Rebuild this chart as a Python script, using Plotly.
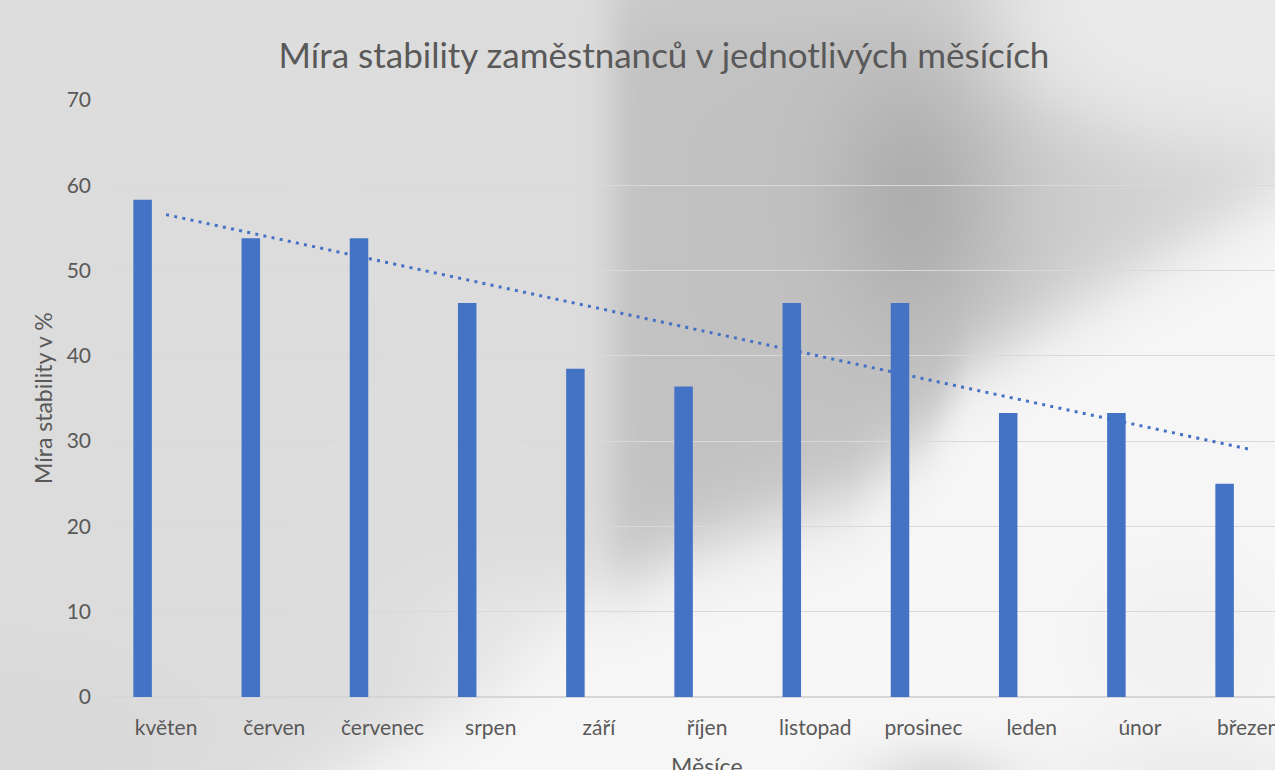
import base64, struct, zlib
import numpy as np
import plotly.graph_objects as go

# ---------------- data ----------------
months = ["květen", "červen", "červenec", "srpen", "září", "říjen",
          "listopad", "prosinec", "leden", "únor", "březen"]
stability = [58.3, 53.8, 53.8, 46.2, 38.5, 36.4, 46.2, 46.2, 33.3, 33.3, 25.0]
y_ticks = [0, 10, 20, 30, 40, 50, 60, 70]

title_text = "Míra stability zaměstnanců v jednotlivých měsících"
y_title = "Míra stability v %"
x_title = "Měsíce"

# linear trendline (least squares, like Excel)
idx = np.arange(len(stability))
slope, intercept = np.polyfit(idx, np.array(stability), 1)
trend = list(intercept + slope * idx)

# ---------------- geometry ----------------
W, H = 1275, 770
L, R, T, B = 112, 0, 100, 73
pw, ph = W - L - R, H - T - B

# ---------------- background (soft grey "metal" gradient) ----------------
yy, xx = np.mgrid[0:H, 0:W].astype(float)

def sig(v):
    return 1.0 / (1.0 + np.exp(-v))

def g(cx, cy, sx, sy):
    return np.exp(-((xx - cx) / sx) ** 2 - ((yy - cy) / sy) ** 2)

left_val = 221.0 - 4 * g(0, 770, 200, 120) + 9 * g(520, 640, 110, 70)
dark_val = (194.0 - 20 * g(915, 200, 85, 130) + 8 * sig((30 - yy) / 15)
            + 14 * sig((xx - 1030) / 40))
I = left_val * (1 - sig((xx - 612) / 10)) + dark_val * sig((xx - 612) / 10)

# top-right light area
yt = np.interp(xx, [1000, 1150, 1275], [90, 140, 160])
Tr = sig((xx - 1000) / 30) * sig((yt - yy) / 25)
I = I * (1 - Tr) + 235.0 * Tr

# lower-right light area with curved boundary
yb = np.interp(xx, [0, 300, 500, 600, 700, 850, 930, 971, 1275],
               [950, 800, 680, 590, 545, 495, 430, 367, 190])
Lr = sig((yy - yb) / 22)
light_val = (247.0 - 26 * g(935, 780, 75, 35) - 10 * g(1200, 770, 150, 40)
             - 6 * g(1180, 640, 90, 80))
I = I * (1 - Lr) + light_val * Lr

I = np.clip(I, 0, 255).astype(np.uint8)
rgb = np.stack([np.clip(I.astype(int) + 1, 0, 255).astype(np.uint8), I, I], axis=-1)

def png_bytes(arr):
    h, w, _ = arr.shape
    raw = b"".join(b"\x00" + arr[r].tobytes() for r in range(h))
    def chunk(t, d):
        return struct.pack(">I", len(d)) + t + d + struct.pack(">I", zlib.crc32(t + d) & 0xFFFFFFFF)
    ihdr = struct.pack(">IIBBBBB", w, h, 8, 2, 0, 0, 0)
    return (b"\x89PNG\r\n\x1a\n" + chunk(b"IHDR", ihdr)
            + chunk(b"IDAT", zlib.compress(raw, 9)) + chunk(b"IEND", b""))

bg_uri = "data:image/png;base64," + base64.b64encode(png_bytes(rgb)).decode()

# ---------------- figure ----------------
BLUE = "#4472C4"
TXT = "#595959"
FONT = "Lato"

fig = go.Figure()
fig.add_trace(go.Scatter(
    x=months, y=trend, mode="lines", xaxis="x", yaxis="y",
    line=dict(color=BLUE, width=3, dash="3px,5.3px"),
    hoverinfo="skip", showlegend=False))
fig.add_trace(go.Bar(
    x=months, y=stability, xaxis="x2", yaxis="y2",
    marker=dict(color=BLUE, line=dict(width=0)),
    width=0.171, offset=-0.3027, showlegend=False))

xr = [-0.5, -0.5 + pw / 108.2]
fig.update_layout(
    width=W, height=H,
    margin=dict(l=L, r=R, t=T, b=B, autoexpand=False),
    paper_bgcolor="#dddcdc", plot_bgcolor="rgba(0,0,0,0)",
    font=dict(family=FONT, color=TXT),
    title=dict(text=title_text, x=664 / W, xanchor="center",
               y=1 - 56 / H, yanchor="middle", xref="container", yref="container",
               font=dict(size=35, color=TXT, family=FONT)),
    xaxis=dict(type="category", categoryorder="array", categoryarray=months,
               range=xr, showgrid=False, zeroline=False, showline=False,
               ticks="", ticklabelstandoff=16,
               tickfont=dict(size=21, color=TXT, family=FONT)),
    yaxis=dict(range=[0, 70], tickvals=y_ticks, showgrid=True,
               gridcolor="#d9d9d9", gridwidth=1.3, zeroline=True,
               zerolinecolor="#d6d6d6", zerolinewidth=1.5, showline=False,
               ticks="", ticklabelstandoff=20,
               tickfont=dict(size=21, color=TXT, family=FONT)),
    xaxis2=dict(type="category", categoryorder="array", categoryarray=months,
                range=xr, overlaying="x", visible=False),
    yaxis2=dict(range=[0, 70], overlaying="y", visible=False),
    images=[dict(source=bg_uri, xref="paper", yref="paper",
                 x=-L / pw, y=1 + T / ph, sizex=W / pw, sizey=H / ph,
                 xanchor="left", yanchor="top", sizing="stretch", layer="below")],
    annotations=[
        dict(text=y_title, xref="paper", yref="paper",
             x=(43 - L) / pw, y=(H - B - 398) / ph, xanchor="center", yanchor="middle",
             textangle=-90, showarrow=False, font=dict(size=23, color=TXT, family=FONT)),
        dict(text=x_title, xref="paper", yref="paper",
             x=(707 - L) / pw, y=(H - B - 766) / ph, xanchor="center", yanchor="middle",
             showarrow=False, font=dict(size=23, color=TXT, family=FONT)),
    ],
)

fig.write_html("out.html", config={"displayModeBar": False},
               post_script="document.body.style.margin='0px';")
